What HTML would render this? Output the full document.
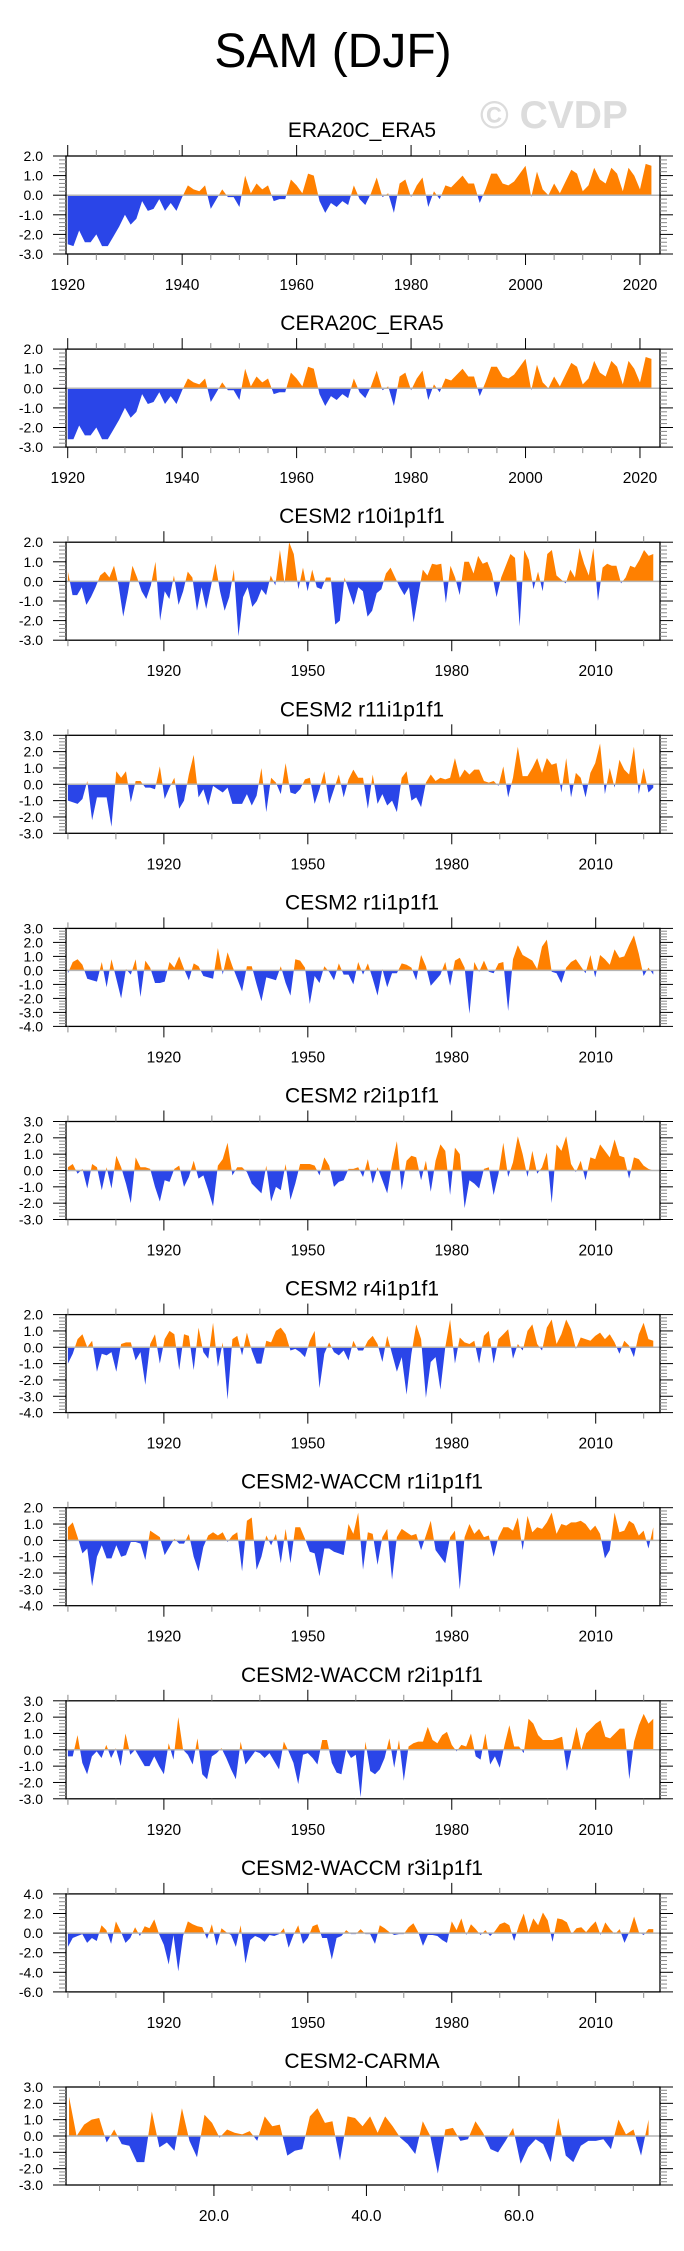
<!DOCTYPE html>
<html><head><meta charset="utf-8">
<style>
html,body{margin:0;padding:0;background:#fff;}
svg{display:block;font-family:"Liberation Sans",Arial,sans-serif;}
</style></head>
<body>
<svg id="chart" width="684" height="2251" viewBox="0 0 684 2251" xmlns="http://www.w3.org/2000/svg">
<text x="333" y="67" font-size="48" text-anchor="middle" fill="#000">SAM (DJF)</text>
<text x="480" y="128" font-size="39" font-weight="bold" fill="#dcdcdc">© CVDP</text>
<g id="panels"></g>
</svg>
<script>
const titles = ["ERA20C_ERA5","CERA20C_ERA5","CESM2 r10i1p1f1","CESM2 r11i1p1f1","CESM2 r1i1p1f1","CESM2 r2i1p1f1","CESM2 r4i1p1f1","CESM2-WACCM r1i1p1f1","CESM2-WACCM r2i1p1f1","CESM2-WACCM r3i1p1f1","CESM2-CARMA"];
const yMins = [-3,-3,-3,-3,-4,-3,-4,-4,-3,-6,-3];
const yMaxs = [2,2,2,3,3,3,2,2,3,4,3];
const ySteps = [1,1,1,1,1,1,1,1,1,2,1];
const era = [-2.5,-2.6,-1.8,-2.4,-2.4,-2.0,-2.6,-2.6,-2.1,-1.6,-1.0,-1.5,-1.2,-0.3,-0.8,-0.7,-0.2,-0.8,-0.4,-0.8,-0.1,0.5,0.3,0.2,0.5,-0.7,-0.2,0.3,-0.1,-0.1,-0.6,1.0,0.1,0.6,0.3,0.5,-0.3,-0.2,-0.2,0.8,0.5,0.1,1.1,1.0,-0.3,-0.9,-0.4,-0.6,-0.3,-0.5,0.5,-0.2,-0.5,0.1,0.9,-0.1,0.1,-0.9,0.6,0.8,-0.1,0.5,0.9,-0.6,0.2,-0.2,0.5,0.4,0.7,1.0,0.6,0.6,-0.4,0.3,1.1,1.1,0.6,0.5,0.7,1.1,1.5,-0.1,1.2,0.3,0.0,0.6,0.1,0.7,1.3,1.1,0.2,0.5,1.4,0.8,0.6,1.4,1.1,0.2,1.4,1.0,0.3,1.6,1.5];
const cera = [-2.6,-2.6,-1.9,-2.4,-2.4,-2.0,-2.6,-2.6,-2.1,-1.6,-1.0,-1.5,-1.2,-0.3,-0.8,-0.7,-0.2,-0.8,-0.4,-0.8,-0.1,0.5,0.3,0.2,0.5,-0.7,-0.2,0.3,-0.1,-0.1,-0.6,1.0,0.1,0.6,0.3,0.5,-0.3,-0.2,-0.2,0.8,0.5,0.1,1.1,1.0,-0.3,-0.9,-0.4,-0.6,-0.3,-0.5,0.5,-0.2,-0.5,0.1,0.9,-0.1,0.1,-0.9,0.6,0.8,-0.1,0.5,0.9,-0.6,0.2,-0.2,0.5,0.4,0.7,1.0,0.6,0.6,-0.4,0.3,1.1,1.1,0.6,0.5,0.7,1.1,1.5,-0.1,1.2,0.3,0.0,0.6,0.1,0.7,1.3,1.1,0.2,0.5,1.4,0.8,0.6,1.4,1.1,0.2,1.4,1.0,0.3,1.6,1.5];
const r10 = [0.5,-0.7,-0.7,-0.3,-1.2,-0.8,-0.3,0.3,0.5,0.2,0.8,-0.2,-1.8,-0.6,0.8,0.2,-0.5,-0.9,-0.2,1.0,-2.0,-0.5,-0.9,0.3,-1.2,-0.5,0.5,0.2,-1.5,-0.3,-1.4,-0.3,0.9,-0.5,-1.5,-0.8,0.6,-2.8,-0.8,-0.3,-1.3,-1.0,-0.4,-0.7,0.3,-0.2,1.6,-0.1,2.0,1.4,-0.4,0.7,-0.5,0.6,-0.3,-0.4,0.2,0.2,-2.2,-2.0,0.2,-0.5,-1.2,-0.3,-0.5,-1.8,-1.5,-0.6,-0.4,0.4,0.7,0.2,-0.3,-0.7,-0.3,-2.1,-0.7,0.6,0.3,0.9,0.85,0.9,-1.1,0.8,0.2,-0.7,1.0,1.0,0.4,1.3,0.9,1.0,0.4,-0.8,0.2,0.8,1.4,1.2,-2.3,1.6,1.1,-0.4,0.5,-0.5,1.4,1.6,0.3,0.1,-0.1,0.6,0.2,1.7,0.9,0.3,1.7,-1.0,0.7,0.9,0.8,0.8,-0.1,0.2,0.8,0.7,1.1,1.6,1.3,1.4];
const r11 = [-1.0,-1.1,-1.2,-0.9,0.2,-2.2,-0.8,-0.8,-0.8,-2.6,0.8,0.4,0.8,-1.1,0.2,0.2,-0.2,-0.2,-0.3,1.1,-0.9,-0.2,0.4,-1.5,-1.0,0.6,1.8,-0.8,-0.3,-1.3,-0.1,-0.3,-0.5,-0.2,-1.2,-1.2,-1.2,-0.6,-1.3,-0.7,1.0,-1.7,0.4,0.1,-0.6,1.3,-0.5,-0.6,-0.3,0.3,0.4,-1.2,-0.3,0.8,-1.2,-0.3,0.6,-0.8,0.3,0.9,0.4,0.4,-1.5,0.6,-1.2,-0.6,-1.3,-1.0,-1.7,0.4,0.8,-1.0,-0.8,-1.4,0.1,0.6,0.2,0.4,0.3,0.4,1.6,0.4,0.9,0.6,0.9,0.9,0.2,0.1,0.2,-0.1,1.1,-0.8,0.4,2.3,0.5,0.5,1.0,1.6,0.7,1.6,1.2,1.3,-0.5,1.6,-0.8,0.7,0.4,-0.8,0.7,1.3,2.5,-0.6,1.0,-0.2,1.5,0.9,0.6,2.3,-0.6,1.0,-0.5,-0.2];
const r1 = [-0.2,0.6,0.8,0.4,-0.6,-0.7,-0.8,0.6,-1.2,0.8,-0.6,-2.0,0.1,-0.3,0.8,-1.9,0.7,0.2,-0.9,-0.9,-0.8,0.6,0.2,1.0,0.1,-0.7,0.5,0.3,-0.4,-0.5,-0.6,1.6,-0.3,1.3,0.3,-0.6,-1.5,0.3,0.3,-1.0,-2.2,-0.5,-0.6,-0.7,0.3,-0.9,-1.8,0.8,0.7,0.2,-2.4,-0.4,-0.9,0.3,-0.1,-0.7,0.5,-0.3,-0.3,-1.0,0.6,-0.3,0.5,-0.6,-1.8,0.1,-1.2,-0.2,-0.2,0.5,0.4,0.2,-0.7,1.1,0.3,-1.1,-0.7,-0.3,0.6,-1.1,0.7,0.9,0.2,-3.1,0.6,-0.1,0.7,-0.1,-0.2,0.5,0.6,-2.9,0.8,1.8,1.1,0.9,0.7,0.1,1.7,2.2,-0.1,-0.2,-0.9,0.2,0.6,0.8,0.3,-0.2,1.1,-0.5,1.1,0.8,0.4,1.5,0.9,1.0,1.8,2.5,1.2,-0.4,0.2,-0.3];
const r2 = [0.2,0.4,-0.2,0.1,-1.1,0.4,0.2,-1.2,0.2,-1.1,0.9,0.2,-0.8,-2.0,0.8,0.2,0.2,0.1,-1.0,-1.9,-0.6,-0.7,0.1,0.3,-1.0,-0.4,0.6,-0.5,-0.3,-1.2,-2.2,0.3,0.7,1.7,-0.3,0.2,0.2,-0.1,-0.8,-1.1,-1.4,0.3,-1.9,-1.0,-1.2,0.4,-1.8,-0.8,0.4,0.4,0.4,0.3,-0.3,0.8,0.3,-1.0,-0.7,-0.6,0.1,0.1,0.2,-0.4,0.7,-0.8,0.2,-0.6,-1.4,0.4,1.8,-1.2,0.6,0.9,0.8,-0.6,0.6,-1.3,0.6,1.6,1.2,-1.5,1.4,1.0,-2.3,-0.6,-0.8,-1.1,0.1,0.2,-1.5,-0.2,1.7,-0.4,0.5,2.1,1.0,-0.4,1.2,-0.2,0.2,1.1,-2.0,1.6,1.2,2.1,0.4,-0.1,0.6,-0.6,0.8,0.7,1.6,1.2,0.8,1.9,0.9,0.8,-0.5,0.8,0.7,0.3,0.1,0.0];
const r4 = [-1.0,-0.4,0.5,0.8,0.0,0.4,-1.5,-0.4,-0.5,-0.3,-1.5,0.2,0.3,0.3,-0.8,-0.3,-2.3,0.2,0.8,-1.0,0.5,1.0,0.8,-1.4,0.8,0.7,-1.4,1.2,-0.3,-0.7,1.5,-1.2,0.3,-3.2,0.5,0.7,-0.5,0.9,-0.2,-1.0,-1.0,0.4,0.3,1.0,1.2,0.8,-0.2,-0.1,-0.3,-0.6,0.4,1.0,-2.5,-0.4,0.3,-0.3,-0.5,-0.2,-0.8,0.4,-0.2,-0.2,0.4,0.7,0.2,-0.9,0.7,-0.4,-1.5,-0.6,-2.9,-0.4,1.4,0.5,-3.1,-0.9,-0.6,-2.6,0.0,1.7,-1.0,0.6,0.3,0.2,0.4,-1.0,0.7,1.0,-1.0,0.5,0.8,1.1,-0.7,0.2,-0.2,1.0,1.4,0.2,-0.2,1.2,1.7,0.2,0.8,1.7,1.1,-0.1,0.6,0.5,0.4,0.7,0.9,0.5,0.8,0.3,-0.4,0.4,0.1,-0.6,0.8,1.5,0.5,0.4];
const w1 = [0.8,1.1,0.2,-0.8,-0.5,-2.8,-1.0,-0.3,-1.1,-1.1,-0.3,-1.0,-0.9,-0.1,-0.1,-0.2,-1.2,0.6,0.4,0.2,-0.9,-0.4,0.1,-0.2,-0.2,0.4,-1.0,-1.9,-0.4,0.3,0.5,0.3,0.5,-0.1,0.3,0.5,-1.9,1.2,1.4,-1.8,-1.0,0.3,-0.3,0.4,-1.4,0.7,-1.4,0.8,0.8,0.1,-0.7,-0.8,-2.2,-0.5,-0.5,-0.7,-0.8,-0.9,1.0,0.4,1.7,-1.8,0.5,0.4,-1.5,0.2,0.7,-2.4,0.2,0.7,0.5,0.3,0.4,-0.6,0.3,1.2,-0.6,-1.0,-1.4,0.2,0.6,-3.0,0.2,1.0,0.4,0.7,0.2,0.3,-1.0,0.2,0.8,0.8,0.6,1.4,-0.6,1.5,0.5,0.8,0.7,1.1,1.7,0.4,1.0,0.9,1.1,1.1,1.2,1.0,0.6,0.9,0.4,-1.1,-0.6,1.7,0.5,0.6,1.2,1.0,0.3,0.6,-0.5,0.8];
const w2 = [-0.4,-0.4,0.9,-0.8,-1.5,-0.4,-0.1,-0.5,0.3,-0.5,0.1,-1.0,1.0,-0.3,0.0,-0.5,-1.0,-1.0,-0.4,-1.0,-1.5,0.4,-0.6,2.0,0.0,-0.3,-0.9,0.7,-1.5,-1.8,-0.4,-0.2,0.1,-0.5,-1.2,-1.8,0.5,-0.9,-0.5,-0.1,-0.2,-0.5,-0.2,-0.7,-1.2,0.5,-0.1,-0.8,-2.1,-0.3,-0.2,-0.5,-0.9,0.6,0.6,-0.8,-1.4,-1.5,0.0,-0.5,-0.3,-2.9,0.5,-1.3,-1.5,-1.2,-0.5,0.7,-1.1,0.6,-1.9,0.2,0.4,0.5,0.5,1.4,0.6,0.4,0.9,1.1,0.3,-0.1,0.3,0.2,1.0,-0.4,-0.6,1.0,-0.9,-0.4,-1.1,0.3,1.5,0.2,0.2,-0.2,1.9,1.6,0.9,0.6,0.6,0.6,0.7,0.8,-1.3,0.1,1.4,0.0,1.0,1.3,1.6,1.8,0.8,0.7,1.0,1.3,1.3,-1.8,0.5,1.5,2.2,1.6,1.9];
const w3 = [-1.4,-0.5,-0.3,-0.1,-1.0,-0.5,-0.8,0.8,0.3,-1.1,1.2,0.2,-1.0,-0.5,0.6,-0.3,0.7,0.5,1.4,-0.1,-1.2,-3.2,-0.2,-3.9,-0.3,1.2,0.9,0.7,0.6,-0.6,0.9,-1.3,0.5,0.1,-0.2,-1.4,0.8,-3.1,-0.7,-0.3,-0.5,-0.9,-0.2,-0.3,-0.1,0.5,-1.5,-0.2,0.8,-1.1,-0.5,0.7,0.9,-0.5,-0.5,-2.7,-0.5,-0.3,0.3,-0.1,-0.1,0.4,-0.1,-0.1,-1.1,0.8,0.5,0.1,-0.2,-0.1,-0.1,0.6,1.0,0.1,-1.3,-0.2,-0.2,-0.3,-0.7,-1.0,1.2,0.3,1.5,-0.2,0.9,0.4,-0.2,0.3,-0.3,0.2,0.9,1.1,0.8,-0.8,0.8,2.0,0.1,1.5,0.8,2.1,1.3,-0.9,1.5,1.4,1.1,-0.1,0.5,0.6,0.1,0.7,1.2,-0.2,1.1,0.4,-0.1,0.4,-1.0,0.1,1.7,0.1,-0.2,0.4,0.4];
const carma = [2.4,0.0,0.7,1.0,1.1,-0.4,0.4,-0.5,-0.6,-1.6,-1.6,1.5,-0.7,-0.4,-0.9,1.7,-0.3,-1.3,1.3,0.8,-0.1,0.4,0.2,0.1,0.3,-0.3,1.2,0.6,0.7,-1.2,-0.9,-0.8,1.2,1.7,0.8,0.9,-1.5,1.2,1.1,0.6,1.2,0.2,1.2,0.6,-0.1,-0.5,-1.1,0.9,0.0,-2.3,0.4,0.5,-0.3,-0.2,0.9,0.2,-0.8,-1.0,-0.3,0.5,-1.7,-0.7,-0.2,-0.5,-1.6,1.1,-1.2,-1.6,-0.6,-0.3,-0.3,-0.2,-0.8,1.0,0.1,0.4,-1.2,1.0];
const series = [era,cera,r10,r11,r1,r2,r4,w1,w2,w3,carma];
const xTypes = ["era","era","mod","mod","mod","mod","mod","mod","mod","mod","carma"];
const xDomain = {era:[1919.7,2023.5], mod:[1899.6,2023.4], carma:[0.6,78.5]};
const dataStart = {era:1920, mod:1900, carma:1};
const dataEnd = {era:2022, mod:2022, carma:77};
const majorTicks = {era:[1920,1940,1960,1980,2000,2020], mod:[1920,1950,1980,2010], carma:[20,40,60]};
const majorLabels = {era:["1920","1940","1960","1980","2000","2020"], mod:["1920","1950","1980","2010"], carma:["20.0","40.0","60.0"]};
const minorStep = {era:5, mod:10, carma:5};

const NS="http://www.w3.org/2000/svg";
const root=document.getElementById('panels');
function mk(tag,attrs,parent){const e=document.createElementNS(NS,tag);for(const k in attrs)e.setAttribute(k,attrs[k]);(parent||root).appendChild(e);return e;}
const L=66,R=660,H=98;
titles.forEach((t,p)=>{
  const top=156+p*193.1, bot=top+H;
  const g=mk('g',{});
  
  
  const ty=xTypes[p], dom=xDomain[ty];
  const xs=v=>L+(v-dom[0])/(dom[1]-dom[0])*(R-L);
  const ymin=yMins[p], ymax=yMaxs[p];
  const ys=v=>bot-(v-ymin)/(ymax-ymin)*H;
  const tt=mk('text',{x:362,y:top-19,'font-size':21,'text-anchor':'middle',fill:'#000'},g);
  tt.textContent=t;
  
  
  const vals=series[p];
  const n=vals.length, s0=dataStart[ty], s1=dataEnd[ty];
  const xv=i=>s0+i*(s1-s0)/(n-1);
  let d='M'+xs(s0).toFixed(2)+','+ys(0).toFixed(2);
  vals.forEach((v,i)=>{d+=' L'+xs(xv(i)).toFixed(2)+','+ys(v).toFixed(2);});
  d+=' L'+xs(s1).toFixed(2)+','+ys(0).toFixed(2)+' Z';
  const cid='c'+p;
  const defs=mk('defs',{},g);
  const cpU=mk('clipPath',{id:cid+'u'},defs); mk('rect',{x:L,y:top,width:R-L,height:ys(0)-top},cpU);
  const cpD=mk('clipPath',{id:cid+'d'},defs); mk('rect',{x:L,y:ys(0),width:R-L,height:bot-ys(0)},cpD);
  const pu=mk('path',{d:d,fill:'#ff8000','clip-path':'url(#'+cid+'u)'},g);
  
  
  const pd=mk('path',{d:d,fill:'#2a45e8','clip-path':'url(#'+cid+'d)'},g);
  
  
  const zl=mk('line',{x1:L,x2:R,y1:ys(0),y2:ys(0),stroke:'#b4b4b4','stroke-width':1.5},g);
  
  
  const fr=mk('rect',{x:L,y:top,width:R-L,height:H,fill:'none',stroke:'#000','stroke-width':1.3},g);
  
  
  for(let v=ymin; v<=ymax+1e-9; v+=ySteps[p]/5){
    const y=ys(v); const maj=Math.abs(Math.round(v/ySteps[p])*ySteps[p]-v)<1e-6;
    const len=maj?13:7;
    mk('line',{x1:L-len,x2:L,y1:y,y2:y,stroke:maj?'#000':'#888','stroke-width':1},g);
    mk('line',{x1:R,x2:R+len,y1:y,y2:y,stroke:maj?'#000':'#888','stroke-width':1},g);
  }
  for(let v=ymin; v<=ymax+1e-9; v+=ySteps[p]){
    const lb=mk('text',{x:43,y:ys(v)+5,'font-size':14,'text-anchor':'end',fill:'#000'},g);
    lb.textContent=v.toFixed(1);
    
    
  }
  const ms=minorStep[ty];
  for(let v=Math.ceil(dom[0]/ms)*ms; v<=dom[1]; v+=ms){
    const x=xs(v); const maj=majorTicks[ty].includes(v);
    const len=maj?11:6;
    mk('line',{x1:x,x2:x,y1:bot,y2:bot+len,stroke:maj?'#000':'#888','stroke-width':1},g);
    mk('line',{x1:x,x2:x,y1:top-len,y2:top,stroke:maj?'#000':'#888','stroke-width':1},g);
  }
  majorTicks[ty].forEach((v,i)=>{
    const lb=mk('text',{x:xs(v),y:bot+36,'font-size':15.5,'text-anchor':'middle',fill:'#000'},g);
    lb.textContent=majorLabels[ty][i];
    
    
  });
});
</script>
</body></html>
